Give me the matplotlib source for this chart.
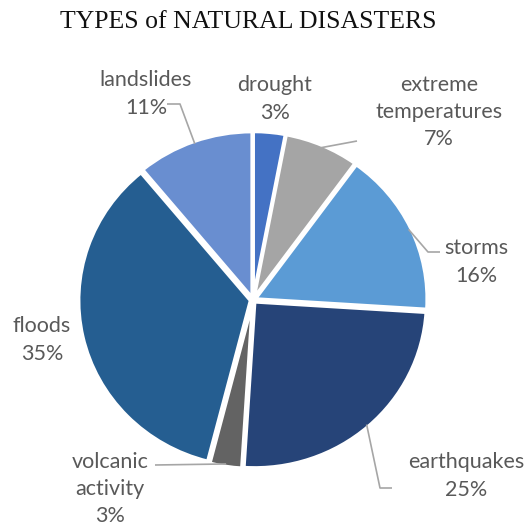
import numpy as np
import matplotlib.pyplot as plt

# slice data, clockwise from 12 o'clock
categories = ["drought", "extreme\ntemperatures", "storms", "earthquakes",
              "volcanic\nactivity", "floods", "landslides"]
shares = [3, 7, 16, 25, 3, 35, 11]
colors = ["#4472C4", "#A5A5A5", "#5B9BD5", "#264478",
          "#636363", "#255E91", "#698ED0"]

W, H = 528, 527
SX = 1.035  # pie is drawn slightly wider than tall
cx, cy, R = 253, H - 300, 166

# label centre (pixels, y down) and leader elbow points (None = no leader)
label_pos = [(275, 99), (439, 112), (476, 262), (466, 476),
             (110, 489), (42, 340), (146, 94)]
leaders = [None,
           [(357, 141)],
           [(428, 252), (440, 252)],
           [(380, 488), (392, 488)],
           [(155, 465)],
           None,
           [(180, 104), (167, 104)]]

fig = plt.figure(figsize=(W / 100, H / 100), dpi=100)
ax = fig.add_axes([0, 0, 1, 1])

ax.pie(shares, colors=colors, startangle=90, counterclock=False,
       center=(cx / SX, cy), radius=R, explode=[2.5] * len(shares),
       wedgeprops=dict(edgecolor="white", linewidth=2.5))
ax.set_xlim(0, W / SX)
ax.set_ylim(0, H)
ax.set_aspect("auto")
ax.axis("off")

total = sum(shares)
start = 0
for name, val, (lx, ly), lead in zip(categories, shares, label_pos, leaders):
    mid = np.radians((start + val / 2) / total * 360)
    start += val
    txt = f"{name}\n{val}%"
    ax.text(lx / SX, H - ly, txt, ha="center", va="center", fontsize=15.5,
            family="Lato", color="#595959", linespacing=1.45)
    if lead:
        ax_ = cx / SX + R * np.sin(mid)
        ay_ = cy + R * np.cos(mid)
        xs = [ax_] + [p[0] / SX for p in lead]
        ys = [ay_] + [H - p[1] for p in lead]
        ax.plot(xs, ys, color="#A6A6A6", lw=1.2, solid_capstyle="butt")

fig.text(248 / W, 1 - 22 / H, "TYPES of NATURAL DISASTERS", ha="center",
         va="center", fontsize=18.5, family="Liberation Serif", color="#111111")

fig.savefig("out.png", dpi=100, facecolor="white")
